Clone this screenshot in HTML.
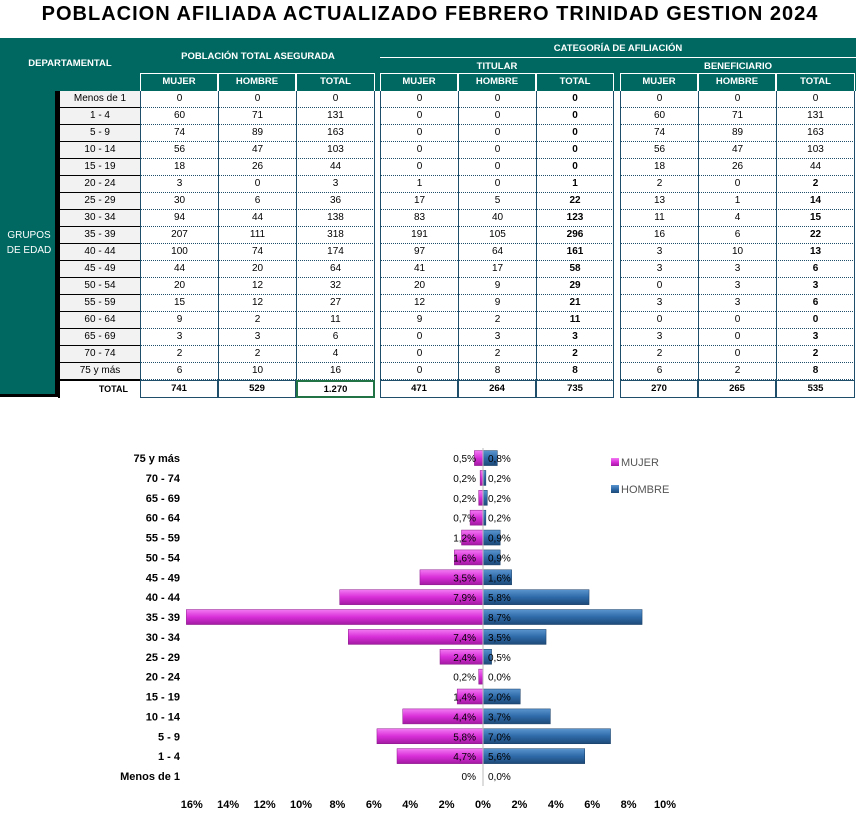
<!DOCTYPE html>
<html><head><meta charset="utf-8">
<style>
body{margin:0;width:860px;height:820px;background:#fff;font-family:"Liberation Sans",sans-serif;position:relative;overflow:hidden}
.a{position:absolute;box-sizing:border-box}
.c{position:absolute;box-sizing:border-box;font-size:10px;text-align:center;line-height:16px;color:#000}
.h{color:#fff;font-weight:bold;font-size:9.5px;text-align:center;position:absolute;box-sizing:border-box}
</style></head><body>
<div class="a" style="left:0;top:0;width:860px;text-align:center;font-size:20px;font-weight:bold;letter-spacing:1px;line-height:28px">POBLACION AFILIADA ACTUALIZADO FEBRERO TRINIDAD GESTION 2024</div>
<div class="a" style="left:0;top:38px;width:856px;height:53px;background:#006861"></div>
<div class="a" style="left:0;top:91px;width:58px;height:306px;background:#006861;border-right:3px solid #000;border-bottom:3px solid #000"></div>
<div class="h" style="left:0;top:58px;width:140px">DEPARTAMENTAL</div>
<div class="h" style="left:140px;top:51px;width:236px">POBLACIÓN TOTAL ASEGURADA</div>
<div class="h" style="left:380px;top:43px;width:476px">CATEGORÍA DE AFILIACIÓN</div>
<div class="a" style="left:380px;top:57px;width:476px;height:1px;background:#fff"></div>
<div class="h" style="left:380px;top:61px;width:234px">TITULAR</div>
<div class="h" style="left:620px;top:61px;width:236px">BENEFICIARIO</div>
<div class="h" style="left:0;top:228px;width:58px;font-weight:normal;font-size:10px;line-height:15px">GRUPOS<br>DE EDAD</div>
<div id="tbl"></div>
<svg id="ch" class="a" style="left:0;top:0" width="860" height="820"></svg>
<script>
const cats=["Menos de 1","1 - 4","5 - 9","10 - 14","15 - 19","20 - 24","25 - 29","30 - 34","35 - 39","40 - 44","45 - 49","50 - 54","55 - 59","60 - 64","65 - 69","70 - 74","75 y más"];
const mujer=[0,60,74,56,18,3,30,94,207,100,44,20,15,9,3,2,6];
const hombre=[0,71,89,47,26,0,6,44,111,74,20,12,12,2,3,2,10];
const titM=[0,0,0,0,0,1,17,83,191,97,41,20,12,9,0,0,0];
const titH=[0,0,0,0,0,0,5,40,105,64,17,9,9,2,3,2,8];
const benM=[0,60,74,56,18,2,13,11,16,3,3,0,3,0,3,2,6];
const benH=[0,71,89,47,26,0,1,4,6,10,3,3,3,0,0,0,2];
const totalPop=1270;
const xTicks=[16,14,12,10,8,6,4,2,0,2,4,6,8,10];

// table
const T=document.getElementById('tbl');
const colX=[140,218,296,375,380,458,536,614,620,698,776,855];
const groups=[[140,218,296,375],[380,458,536,614],[620,698,776,855]];
function cell(x,y,w,h,txt,st,name){const d=document.createElement('div');d.className='c';d.style.cssText=`left:${x}px;top:${y}px;width:${w}px;height:${h}px;`+st;d.textContent=txt;


T.appendChild(d);}
const labs=['MUJER','HOMBRE','TOTAL'];
groups.forEach((g,gi)=>{for(let k=0;k<3;k++){cell(g[k],73,g[k+1]-g[k],18,labs[k],'color:#fff;font-weight:bold;border:1px solid #fff;border-bottom:none;font-size:9.5px','col-header-'+labs[k].toLowerCase());}});
const fmt=n=>n>=1000?String(n).replace(/(\d)(\d{3})$/,'$1.$2'):String(n);
const rowH=17,top0=91;
for(let i=0;i<17;i++){
  const y=top0+i*rowH;
  cell(58,y,82,rowH,cats[i],'background:#f2f2f2;border-bottom:1px solid #000;border-left:2px solid #000;','row-label');
  const vals=[[mujer[i],hombre[i],mujer[i]+hombre[i]],[titM[i],titH[i],titM[i]+titH[i]],[benM[i],benH[i],benM[i]+benH[i]]];
  groups.forEach((g,gi)=>{for(let k=0;k<3;k++){
    let b=(k==2&&gi==1)||(k==2&&gi==2&&i>=5);
    cell(g[k],y,g[k+1]-g[k],rowH,vals[gi][k],`border-left:1px solid #1f4e6b;${k==2?'border-right:1px solid #1f4e6b;':''}border-bottom:1px dotted #1f4e6b;${b?'font-weight:bold':''}`,'data-cell');}});
}
const yt=top0+17*rowH;
cell(58,yt,82,rowH+1,'TOTAL','font-weight:bold;font-size:9px;border-left:2px solid #000;border-top:1px solid #000;text-align:right;padding-right:12px','total-label');
const tots=[[741,529,1270],[471,264,735],[270,265,535]];
groups.forEach((g,gi)=>{for(let k=0;k<3;k++){
  const sel=gi==0&&k==2;
  cell(g[k],yt,g[k+1]-g[k],rowH+1,fmt(tots[gi][k]),`font-weight:bold;font-size:9.5px;border:1px solid #1f4e6b;${sel?'border:2px solid #217346;':''}`,'total-cell');}});

// chart
const S=document.getElementById('ch');const NS='http://www.w3.org/2000/svg';
const x0=483,pxPer=18.2;
const xs=p=>x0+p*pxPer;
const yC=i=>776-i*19.87;
function el(t,a,txt){const e=document.createElementNS(NS,t);for(const k in a)e.setAttribute(k,a[k]);if(txt!=null)e.textContent=txt;S.appendChild(e);return e;}
const defs=el('defs',{});
defs.innerHTML='<linearGradient id="gm" x1="0" y1="0" x2="0" y2="1"><stop offset="0" stop-color="#f27af2"/><stop offset="0.5" stop-color="#d82ed8"/><stop offset="1" stop-color="#a11aa1"/></linearGradient><linearGradient id="gh" x1="0" y1="0" x2="0" y2="1"><stop offset="0" stop-color="#5b95cf"/><stop offset="0.5" stop-color="#2e6aa8"/><stop offset="1" stop-color="#1e4a78"/></linearGradient>';
const bh=15;
const pf=v=>{const p=v/totalPop*100;return p;};
for(let i=0;i<cats.length;i++){
  const y=yC(i);
  const t=el('text',{x:180,y:y+4,'text-anchor':'end','font-size':11,'font-weight':'bold',fill:'#000'},cats[i]);
  
  
  const pm=pf(mujer[i]),ph=pf(hombre[i]);
  const rm=el('rect',{x:xs(-pm),y:y-bh/2,width:Math.max(0,xs(0)-xs(-pm)),height:bh,fill:'url(#gm)',stroke:'#8a168a','stroke-width':0.5});
  
  
  const rh=el('rect',{x:xs(0),y:y-bh/2,width:Math.max(0,xs(ph)-xs(0)),height:bh,fill:'url(#gh)',stroke:'#173c63','stroke-width':0.5});
  
  
  const fm=mujer[i]==0?'0%':pm.toFixed(1).replace('.',',')+'%';
  if(pm<15){const l=el('text',{x:476,y:y+4,'text-anchor':'end','font-size':10,fill:'#000'},fm);
  
  }
  const l2=el('text',{x:488,y:y+4,'font-size':10,fill:'#000'},ph.toFixed(1).replace('.',',')+'%');
  
  
}
el('line',{x1:x0,x2:x0,y1:448,y2:786,stroke:'#bbb','stroke-width':1});
xTicks.forEach((v,j)=>{const sign=j<8?-1:1;const t=el('text',{x:xs(sign*v),y:808,'text-anchor':'middle','font-size':11,'font-weight':'bold',fill:'#000'},v+'%');

});
const lg=[['MUJER','url(#gm)',462],['HOMBRE','url(#gh)',489]];
lg.forEach(([n,f,y])=>{const r=el('rect',{x:611,y:y-4,width:8,height:8,fill:f});


const t=el('text',{x:621,y:y+4,'font-size':11,fill:'#555'},n);

});
</script>
</body></html>
